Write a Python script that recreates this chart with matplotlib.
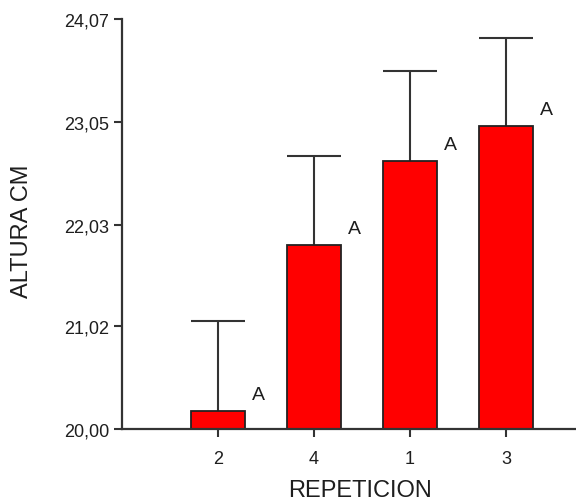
import matplotlib.pyplot as plt
import numpy as np

plt.rcParams['font.family'] = ['Liberation Sans', 'DejaVu Sans']

# data
categories = ['2', '4', '1', '3']
means = [20.18, 21.83, 22.66, 23.01]
err_tops = [21.07, 22.71, 23.55, 23.88]
letters = ['A', 'A', 'A', 'A']
yticks = [20.00, 21.02, 22.03, 23.05, 24.07]
ytick_labels = ['20,00', '21,02', '22,03', '23,05', '24,07']

dark = '#333333'
txt = '#1e1e1e'
base = 20.0
bar_w = 0.56

fig = plt.figure(figsize=(5.76, 5.02), dpi=100)
ax = fig.add_axes([0.2118, 0.1434, 0.7882, 0.8166])

x = np.arange(1, len(categories) + 1)
heights = np.array(means) - base

ax.bar(x, heights, bottom=base, width=bar_w, color='#ff0000',
       edgecolor='#222222', linewidth=1.3, zorder=2)
# one-sided error bars (upper only)
ax.vlines(x, means, err_tops, color=dark, linewidth=1.5, zorder=1)
ax.hlines(err_tops, x - bar_w / 2, x + bar_w / 2, color=dark,
          linewidth=1.5, zorder=1)

for xi, m, t in zip(x, means, letters):
    ax.text(xi + 0.42, m + 0.16, t, ha='center', va='center',
            fontsize=14, color=txt)

ax.set_xlim(0, 4.73)
ax.set_ylim(base, 24.07)
ax.set_xticks(x)
ax.set_xticklabels(categories)
ax.set_yticks(yticks)
ax.set_yticklabels(ytick_labels)

for s in ['top', 'right']:
    ax.spines[s].set_visible(False)
for s in ['left', 'bottom']:
    ax.spines[s].set_color(dark)
    ax.spines[s].set_linewidth(1.6)

ax.tick_params(axis='both', colors=dark, labelcolor=txt,
               labelsize=13, length=6, width=1.5)
ax.tick_params(axis='y', pad=3)
ax.tick_params(axis='x', pad=9)
ax.set_xlabel('REPETICION', fontsize=17, color=txt)
ax.set_ylabel('ALTURA CM', fontsize=17, color=txt)
ax.xaxis.set_label_coords(0.525, -0.123)
ax.yaxis.set_label_coords(-0.195, 0.485)

fig.savefig('out.png', dpi=100)
